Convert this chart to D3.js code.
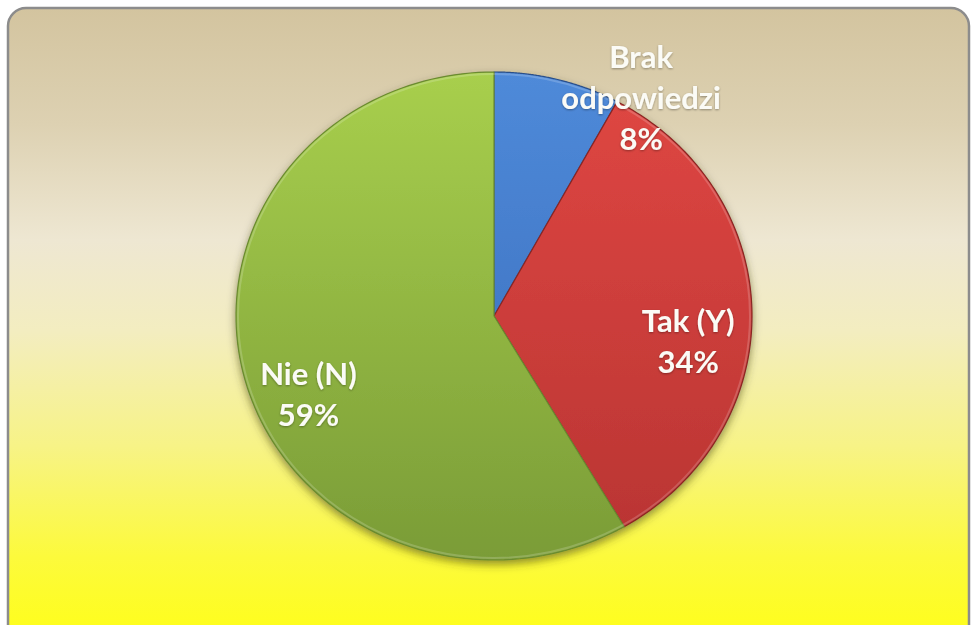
<!DOCTYPE html>
<html>
<head>
<meta charset="utf-8">
<script src="https://cdn.jsdelivr.net/npm/d3@7"></script>
<style>
  html, body { margin: 0; padding: 0; background: #ffffff; }
  svg { display: block; }
</style>
</head>
<body>
<svg id="chart" width="971" height="625"></svg>
<script>
// ---- data ----
const categories = ["Brak odpowiedzi", "Tak (Y)", "Nie (N)"];
const labelLines = [["Brak", "odpowiedzi", "8%"], ["Tak (Y)", "34%"], ["Nie (N)", "59%"]];
const values = [8, 34, 59];
const colorsTop = ["#4f8ad9", "#e04743", "#a8cf4d"];
const colorsBottom = ["#3569b8", "#b83432", "#7a9c37"];
const colorsStroke = ["#2a4f8a", "#8a2624", "#6a8a30"];

// ---- layout ----
const W = 971, H = 625;
const cx = 494, cy = 316, rx = 258, ry = 244;
const svg = d3.select("#chart");
const defs = svg.append("defs");

// background gradient
const bg = defs.append("linearGradient").attr("id", "bg").attr("x1", 0).attr("y1", 0).attr("x2", 0).attr("y2", 1);
[["0", "#d3c49f"], ["0.18", "#ddd1b2"], ["0.36", "#eee7d2"], ["0.5", "#f3edc0"], ["0.68", "#f7f386"], ["0.85", "#fcfa3c"], ["1", "#ffff14"]]
  .forEach(([o, c]) => bg.append("stop").attr("offset", o).attr("stop-color", c));

svg.append("rect").attr("x", 8).attr("y", 8).attr("width", W - 10).attr("height", H + 20)
  .attr("rx", 18).attr("ry", 18).attr("fill", "url(#bg)")
  .attr("stroke", "#8c8c8c").attr("stroke-width", 2.5);

// slice gradients
categories.forEach((c, i) => {
  const g = defs.append("linearGradient").attr("id", "sg" + i)
    .attr("gradientUnits", "userSpaceOnUse")
    .attr("x1", 0).attr("y1", cy - ry).attr("x2", 0).attr("y2", cy + ry);
  g.append("stop").attr("offset", 0).attr("stop-color", colorsTop[i]);
  g.append("stop").attr("offset", 1).attr("stop-color", colorsBottom[i]);
});

// shadow filter
const f = defs.append("filter").attr("id", "shadow").attr("x", "-20%").attr("y", "-20%").attr("width", "140%").attr("height", "140%");
f.append("feDropShadow").attr("dx", 0).attr("dy", 4).attr("stdDeviation", 4)
  .attr("flood-color", "#3a3a10").attr("flood-opacity", 0.55);

const tf = defs.append("filter").attr("id", "tshadow").attr("x", "-20%").attr("y", "-40%").attr("width", "140%").attr("height", "180%");
tf.append("feDropShadow").attr("dx", 0).attr("dy", 1).attr("stdDeviation", 1.2)
  .attr("flood-color", "#000").attr("flood-opacity", 0.35);

const pie = d3.pie().sort(null).value(d => d)(values);
const pieG = svg.append("g").attr("filter", "url(#shadow)");

// elliptical slices from the pie angles
pie.forEach((p, i) => {
  const path = d3.path();
  const n = 120;
  path.moveTo(cx, cy);
  for (let k = 0; k <= n; k++) {
    const a = p.startAngle + (p.endAngle - p.startAngle) * k / n;
    path.lineTo(cx + rx * Math.sin(a), cy - ry * Math.cos(a));
  }
  path.closePath();
  pieG.append("path").attr("d", path.toString())
    .attr("fill", `url(#sg${i})`)
    .attr("stroke", colorsStroke[i]).attr("stroke-width", 1.2)
    .attr("stroke-linejoin", "round");
});

// bevel highlight rim
svg.append("ellipse").attr("cx", cx).attr("cy", cy).attr("rx", rx - 2).attr("ry", ry - 2)
  .attr("fill", "none").attr("stroke", "rgba(255,255,255,0.18)").attr("stroke-width", 2);

// labels: anchored at angle/radius factor relative to pie geometry
const labelAnchor = [
  { ang: 34, r: 1.02, first: -42 },
  { ang: 98, r: 0.76, first: -10 },
  { ang: 244, r: 0.80, first: -17 }
];
const lineH = 41;
const labels = svg.append("g").attr("filter", "url(#tshadow)");
pie.forEach((p, i) => {
  const a = labelAnchor[i].ang * Math.PI / 180;
  const x = cx + rx * labelAnchor[i].r * Math.sin(a);
  const y = cy - ry * labelAnchor[i].r * Math.cos(a);
  const t = labels.append("text").attr("x", x).attr("text-anchor", "middle")
    .attr("font-family", "Lato, 'Open Sans', sans-serif").attr("font-weight", "bold")
    .attr("font-size", 31).attr("fill", "#fbfbf6");
  labelLines[i].forEach((ln, k) => {
    t.append("tspan").attr("x", x).attr("y", y + labelAnchor[i].first + k * lineH).text(ln);
  });
});
</script>
</body>
</html>
